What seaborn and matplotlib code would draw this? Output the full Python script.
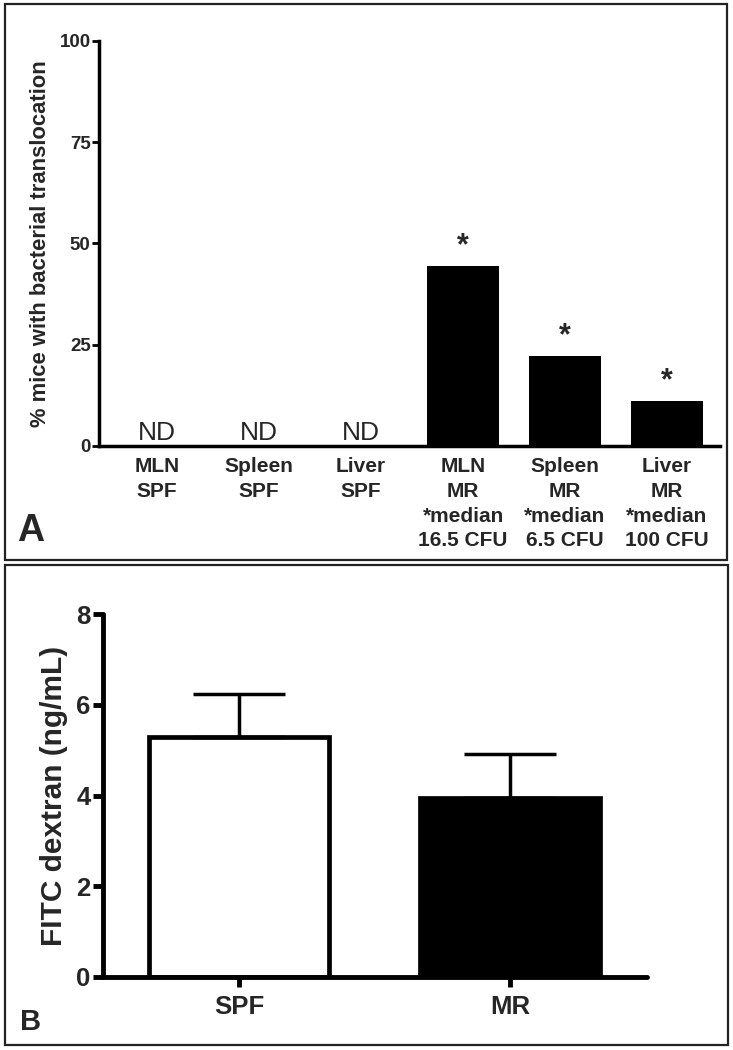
import matplotlib
matplotlib.use("Agg")
import matplotlib.pyplot as plt
import seaborn as sns
import pandas as pd
from matplotlib.patches import Rectangle

# data, panel A
sites = ["MLN\nSPF", "Spleen\nSPF", "Liver\nSPF",
         "MLN\nMR\n*median\n16.5 CFU", "Spleen\nMR\n*median\n6.5 CFU",
         "Liver\nMR\n*median\n100 CFU"]
pct_translocation = [0, 0, 0, 44.4, 22.2, 11.1]
marks = ["ND", "ND", "ND", "*", "*", "*"]

# data, panel B
groups = ["SPF", "MR"]
fitc_mean = [5.30, 3.94]
fitc_sem = [0.93, 0.97]
group_colors = ["white", "black"]

sns.set_style("ticks")
narrow = ["Liberation Sans Narrow", "Liberation Sans", "DejaVu Sans"]
wide = ["Liberation Sans", "DejaVu Sans"]
plt.rcParams["font.family"] = narrow

fig = plt.figure(figsize=(7.33, 10.5), dpi=100)
W, H = 733, 1050

def fig_rect(x0, y0, x1, y1):
    return [x0 / W, 1 - y1 / H, (x1 - x0) / W, (y1 - y0) / H]

# panel frames
for (x0, y0, x1, y1) in [(5, 4, 727, 560), (5, 565, 728, 1045)]:
    fig.patches.append(Rectangle((x0 / W, 1 - y1 / H), (x1 - x0) / W, (y1 - y0) / H,
                                 transform=fig.transFigure, fill=False,
                                 edgecolor="#222222", lw=1.6))

# ---- Panel A ----
axA = fig.add_axes(fig_rect(99, 40.7, 720, 446))
dfA = pd.DataFrame({"site": sites, "pct": pct_translocation})
sns.barplot(data=dfA, x="site", y="pct", color="black", width=0.70,
            saturation=1, ax=axA, linewidth=0)
axA.set_ylim(0, 100)
axA.set_xlim(-0.57, 5.52)
axA.set_yticks([0, 25, 50, 75, 100])
axA.set_yticklabels(["0", "25", "50", "75", "100"], fontsize=13.5, fontweight="bold")
axA.set_xticks(range(len(sites)))
axA.set_xticklabels(sites, fontsize=15, fontweight="bold", linespacing=1.38)
axA.tick_params(axis="x", length=0, pad=8)
axA.tick_params(axis="y", length=5, width=2, pad=1, color="black")
for s in ["left", "bottom"]:
    axA.spines[s].set_linewidth(2.5)
    axA.spines[s].set_color("black")
sns.despine(ax=axA)
axA.set_xlabel("")
axA.set_ylabel("% mice with bacterial translocation", fontsize=15.8,
               fontweight="bold", family=wide, labelpad=6)
for i, (v, m) in enumerate(zip(pct_translocation, marks)):
    if m == "ND":
        axA.text(i, v + 0.3, m, ha="center", va="bottom", fontsize=19)
    else:
        axA.text(i, v + 1.2, m, ha="center", va="bottom", fontsize=22,
                 fontweight="bold", family=wide)
fig.text(17 / W, 1 - 541 / H, "A", fontsize=27, fontweight="bold",
         family=wide, ha="left", va="baseline")

# ---- Panel B ----
axB = fig.add_axes(fig_rect(103, 614, 647, 977))
dfB = pd.DataFrame({"group": groups, "fitc": fitc_mean})
sns.barplot(data=dfB, x="group", y="fitc", hue="group", palette=group_colors,
            width=0.665, saturation=1, edgecolor="black", linewidth=3.4,
            legend=False, ax=axB)
axB.errorbar(range(len(groups)), fitc_mean, yerr=[[0] * len(groups), fitc_sem],
             fmt="none", ecolor="black", elinewidth=2.5, capsize=33,
             capthick=2.5, zorder=1)
axB.set_ylim(0, 8)
axB.set_xlim(-0.502, 1.506)
axB.set_yticks([0, 2, 4, 6, 8])
axB.set_yticklabels(["0", "2", "4", "6", "8"], fontsize=18.5, fontweight="bold")
axB.set_xticks(range(len(groups)))
axB.set_xticklabels(groups, fontsize=18.5, fontweight="bold")
axB.tick_params(axis="both", length=7, width=3.5, pad=2, color="black")
axB.tick_params(axis="x", pad=6)
for s in ["left", "bottom"]:
    axB.spines[s].set_linewidth(3.5)
    axB.spines[s].set_color("black")
    axB.spines[s].set_capstyle("round")
sns.despine(ax=axB)
axB.set_xlabel("")
axB.set_ylabel("FITC dextran (ng/mL)", fontsize=21.5, fontweight="bold",
               family=wide, labelpad=6)
fig.text(20 / W, 1 - 1030 / H, "B", fontsize=21, fontweight="bold",
         family=wide, ha="left", va="baseline")

fig.savefig("out.png", dpi=100, facecolor="white")
